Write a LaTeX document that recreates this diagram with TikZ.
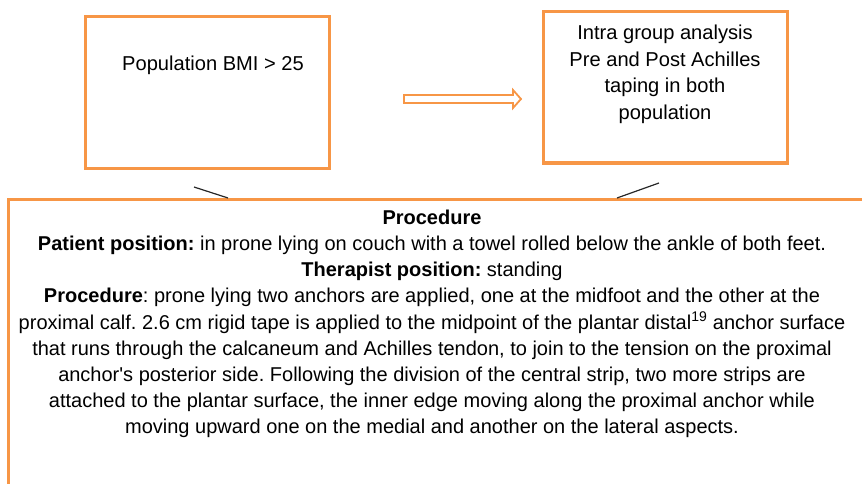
\documentclass[tikz,border=0pt]{standalone}
\usepackage{fontspec}
\setmainfont{Liberation Sans}
\definecolor{boxorange}{RGB}{247,150,70}
\begin{document}
\frenchspacing
\begin{tikzpicture}[x=1pt,y=-1pt,
  orangebox/.style={draw=boxorange,line width=3pt},
  connline/.style={draw=black!85,line width=1.2pt},
  toptext/.style={align=center,inner sep=0pt,font=\fontsize{20.1}{26.6}\selectfont},
  bodytext/.style={align=center,inner sep=0pt,font=\fontsize{20}{26.1}\selectfont}]
\useasboundingbox (0,0) rectangle (862,484);
% boxes
\draw[orangebox] (85,17) rectangle (329,168);
\draw[orangebox] (543,12) rectangle (787,163);
\draw[orangebox] (870,199) -- (8,199) -- (8,495);
% texts
\node[toptext] (pop) at (213,65.5) {Population BMI > 25};
\node[toptext,anchor=north] (intra) at (665,25) {Intra group analysis\\Pre and Post Achilles\\taping in both\\population};
\node[bodytext,anchor=north] (proc) at (432,210) {\textbf{Procedure}\\
\textbf{Patient position:} in prone lying on couch with a towel rolled below the ankle of both feet.\\
\textbf{Therapist position:} standing\\
\textbf{Procedure}: prone lying two anchors are applied, one at the midfoot and the other at the\\
proximal calf. 2.6 cm rigid tape is applied to the midpoint of the plantar distal\textsuperscript{19} anchor surface\\
that runs through the calcaneum and Achilles tendon, to join to the tension on the proximal\\
anchor\textquotesingle s posterior side. Following the division of the central strip, two more strips are\\
attached to the plantar surface, the inner edge moving along the proximal anchor while\\
moving upward one on the medial and another on the lateral aspects.};
% block arrow
\draw[draw=boxorange,line width=1.8pt,fill=white,line join=miter]
  (404,95) -- (513,95) -- (513,90) -- (521,99) -- (513,108) -- (513,103) -- (404,103) -- cycle;
% connectors
\coordinate (l1a) at (194,187);
\coordinate (l1b) at (228,198);
\coordinate (l2a) at (617,198);
\coordinate (l2b) at (659,183);
\draw[connline] (l1a) -- (l1b);
\draw[connline] (l2a) -- (l2b);
\end{tikzpicture}
\end{document}
